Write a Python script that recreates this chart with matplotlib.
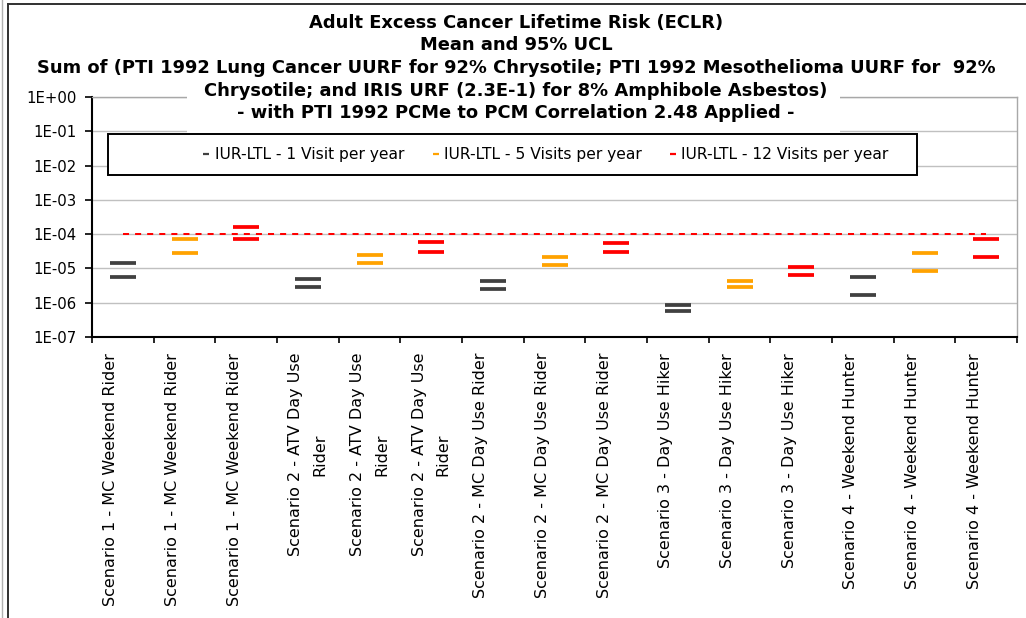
import numpy as np
import matplotlib
matplotlib.use("Agg")
import matplotlib.pyplot as plt
from matplotlib.lines import Line2D
from matplotlib.patches import Rectangle
from matplotlib.ticker import FixedLocator, FuncFormatter

# ---------------- data ----------------
categories = [
    "Scenario 1 - MC Weekend Rider",
    "Scenario 1 - MC Weekend Rider",
    "Scenario 1 - MC Weekend Rider",
    "Scenario 2 - ATV Day Use\nRider",
    "Scenario 2 - ATV Day Use\nRider",
    "Scenario 2 - ATV Day Use\nRider",
    "Scenario 2 - MC Day Use Rider",
    "Scenario 2 - MC Day Use Rider",
    "Scenario 2 - MC Day Use Rider",
    "Scenario 3 - Day Use Hiker",
    "Scenario 3 - Day Use Hiker",
    "Scenario 3 - Day Use Hiker",
    "Scenario 4 - Weekend Hunter",
    "Scenario 4 - Weekend Hunter",
    "Scenario 4 - Weekend Hunter",
]
N = None
# 95% UCL (upper dash) and mean (lower dash) per series
visit1_ucl = [1.43e-5, N, N, 4.8e-6, N, N, 4.2e-6, N, N, 8.3e-7, N, N, 5.5e-6, N, N]
visit1_mean = [5.5e-6, N, N, 2.8e-6, N, N, 2.44e-6, N, N, 5.6e-7, N, N, 1.63e-6, N, N]
visit5_ucl = [N, 7.1e-5, N, N, 2.45e-5, N, N, 2.09e-5, N, N, 4.2e-6, N, N, 2.74e-5, N]
visit5_mean = [N, 2.8e-5, N, N, 1.43e-5, N, N, 1.22e-5, N, N, 2.8e-6, N, N, 8.2e-6, N]
visit12_ucl = [N, N, 1.63e-4, N, N, 6.1e-5, N, N, 5.36e-5, N, N, 1.07e-5, N, N, 7.0e-5]
visit12_mean = [N, N, 7.1e-5, N, N, 3.1e-5, N, N, 3.1e-5, N, N, 6.25e-6, N, N, 2.09e-5]
threshold = 1e-4

series_labels = ["IUR-LTL - 1 Visit per year",
                 "IUR-LTL - 5 Visits per year",
                 "IUR-LTL - 12 Visits per year"]
series_colors = ["#404040", "#FFA200", "#FF0000"]

title_lines = [
    "Adult Excess Cancer Lifetime Risk (ECLR)",
    "Mean and 95% UCL",
    "Sum of (PTI 1992 Lung Cancer UURF for 92% Chrysotile; PTI 1992 Mesothelioma UURF for  92%",
    "Chrysotile; and IRIS URF (2.3E-1) for 8% Amphibole Asbestos)",
    "- with PTI 1992 PCMe to PCM Correlation 2.48 Applied -",
]
ytick_values = 10.0 ** np.arange(-7, 1)

# ---------------- figure ----------------
W, H = 1026, 618
fig = plt.figure(figsize=(W / 100, H / 100), dpi=100)
fig.patch.set_facecolor("white")

def fx(px):
    return px / W

def fy(py):
    return 1 - py / H

ax = fig.add_axes([fx(92), fy(337), fx(1017) - fx(92), fy(97) - fy(337)])
x = np.arange(len(categories))

series = [(visit1_ucl, visit1_mean), (visit5_ucl, visit5_mean), (visit12_ucl, visit12_mean)]
for (ucl, mean), col in zip(series, series_colors):
    for vals in (ucl, mean):
        ax.plot(x, np.array(vals, dtype=float), ls="none", marker="_",
                ms=18.5, mew=2.7, color=col, zorder=3)

ax.plot(x, np.full(len(x), threshold), color="#FF0000", lw=1.45,
        ls=(0, (3, 3)), zorder=2)

ax.set_yscale("log")
ax.set_ylim(1e-7, 1)
ax.set_xlim(-0.5, len(categories) - 0.5)

ax.yaxis.set_major_locator(FixedLocator(ytick_values))
ax.yaxis.set_minor_locator(FixedLocator([]))
ax.yaxis.set_major_formatter(FuncFormatter(
    lambda v, p: "1E{:+03d}".format(int(round(np.log10(v))))))
ax.tick_params(axis="y", which="major", direction="out", length=5, width=1.2,
               pad=6, labelsize=10.7, colors="black")

ax.set_xticks(x)
ax.set_xticklabels([c if "\n" in c else c + "\n " for c in categories],
                   rotation=90, va="top", ha="center", fontsize=11.5,
                   linespacing=1.75)
ax.xaxis.set_minor_locator(FixedLocator(np.arange(-0.5, len(categories), 1.0)))
ax.tick_params(axis="x", which="major", length=0, pad=11.5)
ax.tick_params(axis="x", which="minor", direction="out", length=4, width=1.2)

ax.grid(axis="y", which="major", color="#C0C0C0", lw=1.0, zorder=0)
ax.set_axisbelow(True)
for s in ("left", "bottom"):
    ax.spines[s].set_color("black")
    ax.spines[s].set_linewidth(1.5)
for s in ("top", "right"):
    ax.spines[s].set_color("#A8A8A8")
    ax.spines[s].set_linewidth(1.0)

# legend box and entries
ax.add_patch(Rectangle((0.0173, 0.675), 0.892 - 0.0173, 0.846 - 0.675,
                       transform=ax.transAxes, facecolor="white",
                       edgecolor="black", lw=1.4, zorder=4))
handles = [Line2D([], [], ls="none", marker="_", ms=4, mew=1.6, color=c)
           for c in series_colors]
ax.legend(handles, series_labels, ncol=3, frameon=False, loc="center left",
          bbox_to_anchor=(0.1187, 0.760), borderpad=0, borderaxespad=0,
          handlelength=0.6, handletextpad=0.25, columnspacing=1.7,
          fontsize=11.2).set_zorder(5)

# title background (covers the gridlines under the title)
fig.patches.append(Rectangle((fx(187), fy(132.5)), fx(840) - fx(187), fy(86) - fy(132.5),
                             transform=fig.transFigure, facecolor="white",
                             edgecolor="none", zorder=2))
for i, line in enumerate(title_lines):
    fig.text(fx(516), fy(23 + 22.5 * i), line, ha="center", va="center",
             fontsize=12.9, fontweight="bold", zorder=3)

# chart-area border
fig.add_artist(Line2D([fx(7.5), fx(7.5)], [0, fy(4)], transform=fig.transFigure,
                      color="#303030", lw=1.4))
fig.add_artist(Line2D([fx(7.5), 1], [fy(4), fy(4)], transform=fig.transFigure,
                      color="#303030", lw=1.4))
fig.add_artist(Line2D([fx(2), fx(2)], [0, 1], transform=fig.transFigure,
                      color="#B0B0B0", lw=1.0))

fig.savefig("out.png", dpi=100)
